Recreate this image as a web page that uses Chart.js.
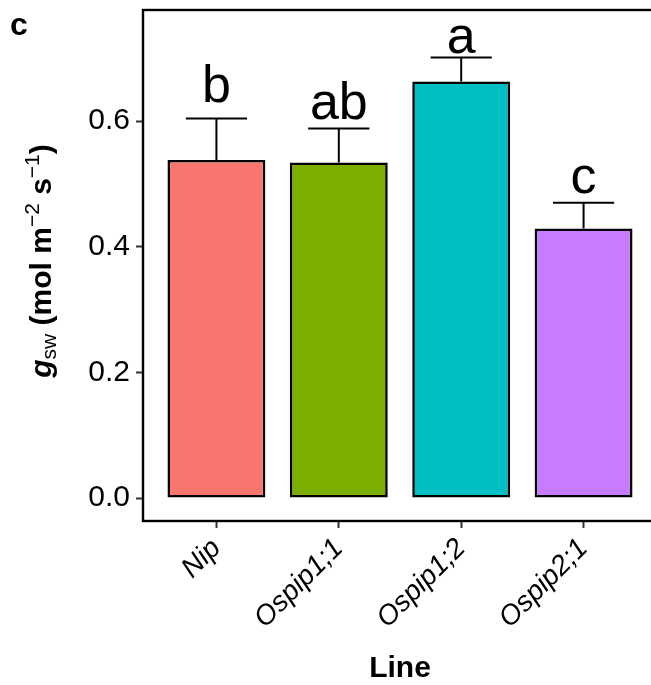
<!DOCTYPE html>
<html>
<head>
<meta charset="utf-8">
<script src="https://cdn.jsdelivr.net/npm/chart.js@4"></script>
<style>
  html, body { margin: 0; padding: 0; background: #fff; overflow: hidden; }
  #wrap { width: 651px; height: 685px; overflow: hidden; }
</style>
</head>
<body>
<div id="wrap"><canvas id="gswChart" width="665" height="685"></canvas></div>
<script>
const lines = ['Nip', 'Ospip1;1', 'Ospip1;2', 'Ospip2;1'];
const gswMean = [0.538, 0.534, 0.663, 0.429];
const gswSe = [0.066, 0.054, 0.038, 0.041];
const letters = ['b', 'ab', 'a', 'c'];
const letterY = [0.630, 0.603, 0.708, 0.485];
const yTicks = [0, 0.2, 0.4, 0.6];
const barColors = ['#F8766D', '#7CAE00', '#00BFC4', '#C77CFF'];

const FONT = '"Liberation Sans", Arial, Helvetica, sans-serif';

// error bars, letters, frame and titles drawn on top of the bars
const extras = {
    id: 'extras',
    afterDatasetsDraw(chart) {
        const ctx = chart.ctx;
        const xs = chart.scales.x;
        const ys = chart.scales.y;
        const area = chart.chartArea;
        const capHalf = (xs.getPixelForValue(1) - xs.getPixelForValue(0)) * 0.25;

        ctx.save();
        ctx.strokeStyle = '#000';
        ctx.lineWidth = 2;
        gswMean.forEach((m, i) => {
            const x = xs.getPixelForValue(i);
            const y0 = ys.getPixelForValue(m);
            const y1 = ys.getPixelForValue(m + gswSe[i]);
            ctx.beginPath();
            ctx.moveTo(x, y0);
            ctx.lineTo(x, y1);
            ctx.moveTo(x - capHalf, y1);
            ctx.lineTo(x + capHalf, y1);
            ctx.stroke();

            ctx.fillStyle = '#000';
            ctx.font = '52px ' + FONT;
            ctx.textAlign = 'center';
            ctx.textBaseline = 'alphabetic';
            ctx.fillText(letters[i], x, ys.getPixelForValue(letterY[i]));
        });

        // panel frame
        ctx.lineWidth = 2.4;
        ctx.strokeRect(area.left, area.top, area.right - area.left, area.bottom - area.top);
        ctx.restore();
    },
    afterDraw(chart) {
        const ctx = chart.ctx;
        const area = chart.chartArea;
        ctx.save();
        ctx.fillStyle = '#000';

        // panel tag
        ctx.font = 'bold 32px ' + FONT;
        ctx.textAlign = 'left';
        ctx.textBaseline = 'alphabetic';
        ctx.fillText('c', 10, 35);

        // x title
        ctx.font = 'bold 30px ' + FONT;
        ctx.textAlign = 'center';
        ctx.fillText('Line', (area.left + area.right) / 2, 677);

        // y title with sub/superscripts
        const parts = [
            { t: 'g', f: 'italic bold 30px ', dy: 0 },
            { t: 'sw', f: '21px ', dy: 5 },
            { t: ' (mol m', f: 'bold 30px ', dy: 0 },
            { t: '\u22122', f: '21px ', dy: -12 },
            { t: ' s', f: 'bold 30px ', dy: 0 },
            { t: '\u22121', f: '21px ', dy: -12 },
            { t: ')', f: 'bold 30px ', dy: 0 }
        ];
        let total = 0;
        parts.forEach(p => {
            ctx.font = p.f + FONT;
            p.w = ctx.measureText(p.t).width;
            total += p.w;
        });
        ctx.translate(51, 261);
        ctx.rotate(-Math.PI / 2);
        ctx.textAlign = 'left';
        let pos = -total / 2;
        parts.forEach(p => {
            ctx.font = p.f + FONT;
            ctx.fillText(p.t, pos, p.dy);
            pos += p.w;
        });
        ctx.restore();
    }
};

const ctx = document.getElementById('gswChart').getContext('2d');
new Chart(ctx, {
    type: 'bar',
    data: {
        datasets: [{
            data: gswMean.map((v, i) => ({ x: i, y: v })),
            backgroundColor: barColors,
            borderColor: '#000',
            borderWidth: 2.6,
            borderSkipped: false,
            categoryPercentage: 0.8,
            barPercentage: 1.0
        }]
    },
    options: {
        responsive: false,
        animation: false,
        layout: { padding: { top: 10, right: 8, left: 0, bottom: 0 } },
        plugins: {
            legend: { display: false },
            tooltip: { enabled: false }
        },
        scales: {
            x: {
                type: 'linear',
                min: -0.6,
                max: 3.6,
                offset: false,
                afterBuildTicks: scale => {
                    scale.ticks = lines.map((l, i) => ({ value: i }));
                },
                afterFit: scale => {
                    scale.height = 164;
                    scale.paddingLeft = 0;
                    scale.paddingRight = 0;
                },
                ticks: {
                    autoSkip: false,
                    minRotation: 45,
                    maxRotation: 45,
                    padding: 4,
                    color: '#000',
                    font: { family: FONT, size: 28, style: 'italic' },
                    callback: (v) => lines[v]
                },
                grid: {
                    offset: false,
                    drawOnChartArea: false,
                    drawTicks: true,
                    tickLength: 7,
                    tickWidth: 2,
                    tickColor: '#333'
                },
                border: { display: false }
            },
            y: {
                min: -0.0366,
                max: 0.7767,
                afterBuildTicks: scale => {
                    scale.ticks = yTicks.map(v => ({ value: v }));
                },
                afterFit: scale => {
                    scale.width = 143;
                    scale.paddingTop = 0;
                    scale.paddingBottom = 0;
                },
                ticks: {
                    padding: 6,
                    color: '#000',
                    font: { family: FONT, size: 30 },
                    callback: v => v.toFixed(1)
                },
                grid: {
                    drawOnChartArea: false,
                    drawTicks: true,
                    tickLength: 7,
                    tickWidth: 2,
                    tickColor: '#333'
                },
                border: { display: false }
            }
        }
    },
    plugins: [extras]
});
</script>
</body>
</html>
